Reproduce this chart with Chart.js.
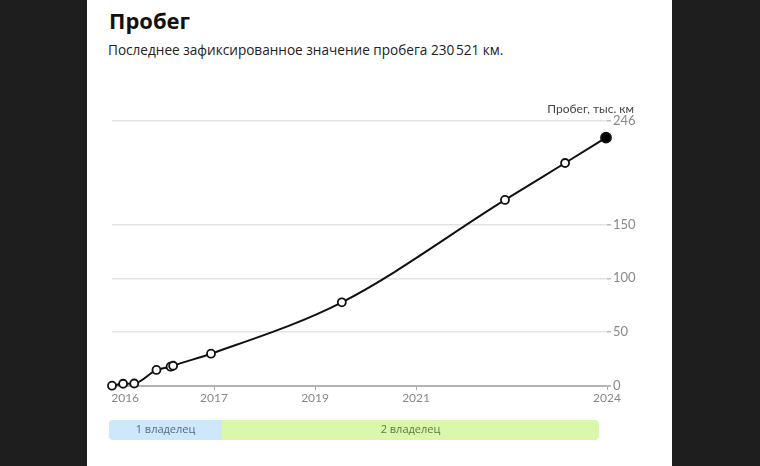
<!DOCTYPE html>
<html>
<head>
<meta charset="utf-8">
<script src="https://cdn.jsdelivr.net/npm/chart.js@4"></script>
<style>
  body { margin: 0; background: #1e1e1e; width: 760px; height: 466px; overflow: hidden; position: relative; }
  #panel { position: absolute; left: 87px; top: 0; width: 585px; height: 466px; background: #fff; }
  h1 { position: absolute; left: 109px; top: 5px; margin: 0; font: bold 22px "Open Sans", sans-serif; color: #111; }
  p { position: absolute; left: 108px; top: 40px; margin: 0; font: 13.6px "Open Sans", sans-serif; color: #222; }
  canvas { position: absolute; left: 0; top: 0; }
</style>
</head>
<body>
<div id="panel"></div>
<h1>Пробег</h1>
<p>Последнее зафиксированное значение пробега 230&#8239;521 км.</p>
<canvas id="mileage" width="760" height="466"></canvas>
<script>
// даты замеров (десятичный год) и пробег, тыс. км
const dates = [2014.98, 2015.20, 2015.42, 2015.86, 2016.14, 2016.19, 2016.94, 2019.53, 2022.76, 2023.95, 2024.76];
const mileage = [0.3, 2.1, 2.3, 14.9, 17.9, 18.8, 30.0, 77.7, 172.7, 207, 230.5];

const xMin = 2014.98;
const xMax = 2024.78;
const xTickValues = [2015.24, 2017, 2019, 2021, 2024.78];
const xTickLabels = ['2016', '2017', '2019', '2021', '2024'];
const yTickValues = [0, 50, 100, 150, 246];

const owners = ['1 владелец', '2 владелец'];
const ownerStart = [2014.92, 2017.16];
const ownerEnd = [2017.16, 2024.62];
const ownerColors = ['#cde8fb', '#daf7ab'];
const ownerText = ['#4f6e86', '#5b7a45'];

const points = dates.map((d, i) => ({ x: d, y: mileage[i] }));
const last = points.length - 1;

const extras = {
  id: 'extras',
  afterDraw(chart) {
    const ctx = chart.ctx;
    const x = chart.scales.x;
    ctx.save();
    // подпись оси
    ctx.font = '12px Lato';
    ctx.fillStyle = '#444';
    ctx.textAlign = 'right';
    ctx.textBaseline = 'alphabetic';
    ctx.fillText('Пробег, тыс. км', 634, 113);
    // полоса владельцев
    const top = 420, h = 20;
    owners.forEach((name, i) => {
      const x0 = x.getPixelForValue(ownerStart[i]);
      const x1 = x.getPixelForValue(ownerEnd[i]);
      const r = i === 0 ? [4, 0, 0, 4] : [0, 4, 4, 0];
      ctx.fillStyle = ownerColors[i];
      ctx.beginPath();
      ctx.roundRect(x0, top, x1 - x0, h, r);
      ctx.fill();
      ctx.fillStyle = ownerText[i];
      ctx.font = '11px "Open Sans"';
      ctx.textAlign = 'center';
      ctx.textBaseline = 'middle';
      ctx.fillText(name, (x0 + x1) / 2, top + h / 2);
    });
    ctx.restore();
  }
};

new Chart(document.getElementById('mileage'), {
  type: 'line',
  data: {
    datasets: [{
      data: points,
      borderColor: '#111',
      borderWidth: 2,
      cubicInterpolationMode: 'monotone',
      pointRadius: ctx => ctx.dataIndex === last ? 5 : 4,
      pointBackgroundColor: ctx => ctx.dataIndex === last ? '#000' : '#fff',
      pointBorderColor: '#111',
      pointBorderWidth: 1.8,
      clip: false
    }]
  },
  options: {
    responsive: false,
    animation: false,
    layout: { padding: { left: 112, right: 103, top: 121, bottom: 60 } },
    plugins: { legend: { display: false }, tooltip: { enabled: false } },
    scales: {
      x: {
        type: 'linear',
        min: xMin,
        max: xMax,
        afterBuildTicks: s => { s.ticks = xTickValues.map(v => ({ value: v })); },
        afterFit: s => { s.height = 20; },
        grid: {
          drawOnChartArea: false,
          tickLength: 4,
          tickColor: ctx => ctx.index === 0 ? 'rgba(0,0,0,0)' : '#aaa'
        },
        border: { display: false },
        ticks: {
          autoSkip: false,
          maxRotation: 0,
          padding: 1,
          color: '#888',
          font: { family: 'Lato', size: 12 },
          callback: (v, i) => xTickLabels[i]
        }
      },
      y: {
        position: 'right',
        min: 0,
        max: 246,
        afterBuildTicks: s => { s.ticks = yTickValues.map(v => ({ value: v })); },
        afterFit: s => { s.width = 50; },
        grid: {
          color: ctx => ctx.tick && ctx.tick.value === 0 ? '#b3b3b3' : '#e4e4e4',
          lineWidth: ctx => ctx.tick && ctx.tick.value === 0 ? 2 : 1.5,
          tickLength: 4,
          tickColor: '#bbb'
        },
        border: { display: false },
        ticks: {
          padding: 2,
          color: '#888',
          font: { family: 'Lato', size: 13 }
        }
      }
    }
  },
  plugins: [extras]
});
</script>
</body>
</html>
